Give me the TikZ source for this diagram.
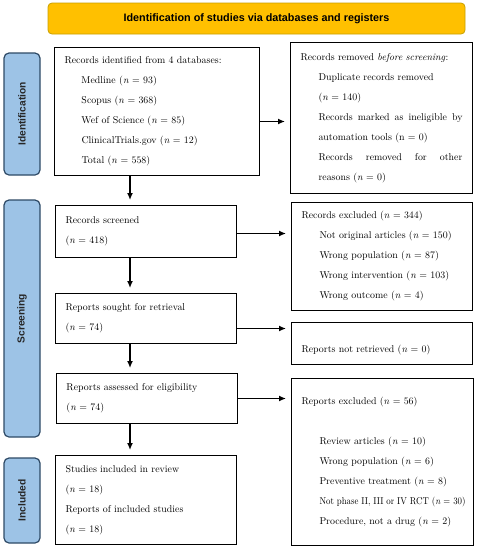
\documentclass[tikz,border=0pt]{standalone}
\usepackage{fontspec}
\newfontfamily\headfont{Liberation Sans}
\usetikzlibrary{positioning,arrows.meta}

\definecolor{bannerfill}{HTML}{FFC000}
\definecolor{banneredge}{HTML}{C8A000}
\definecolor{phasefill}{HTML}{9DC3E6}
\definecolor{phaseedge}{HTML}{2E4A66}

\tikzset{
  box/.style={draw, line width=1pt, anchor=north west, align=left,
    inner xsep=10pt, inner ysep=0pt, font=\fontsize{9.9}{20}\selectfont},
  phase/.style={draw=phaseedge, fill=phasefill, line width=1.2pt,
    rounded corners=5pt, rotate=90, minimum height=36pt,
    font=\headfont\bfseries\fontsize{10.2}{12}\selectfont, text=black!85},
  flow/.style={-{Latex[length=7pt,width=6pt]}, line width=1.3pt, shorten >=5pt}
}

\begin{document}
\begin{tikzpicture}[x=1pt,y=1pt]
  \useasboundingbox (0,0) rectangle (477,-550);

  % header and phases
  \node[draw=banneredge, fill=bannerfill, line width=0.8pt, rounded corners=4pt,
        minimum width=417pt, minimum height=31pt,
        font=\headfont\bfseries\fontsize{10.8}{12}\selectfont] (banner) at (256.5,-18.5)
        {Identification of studies via databases and registers};
  \node[phase, minimum width=122pt] (ident) at (22,-114)   {Identification};
  \node[phase, minimum width=237pt] (screen) at (22,-318.5) {Screening};
  \node[phase, minimum width=85pt]  (incl) at (22,-500.5)  {Included};

  % left column
  \node[box, text width=185pt, minimum height=128pt] (found) at (54,-47)
    {Records identified from 4 databases:\\
     \hspace*{17pt}Medline (\textit{n} = 93)\\
     \hspace*{17pt}Scopus (\textit{n} = 368)\\
     \hspace*{17pt}Wef of Science (\textit{n} = 85)\\
     \hspace*{17pt}ClinicalTrials.gov (\textit{n} = 12)\\
     \hspace*{17pt}Total (\textit{n} = 558)};
  \node[box, text width=161pt, minimum height=52pt] (screened) at (55,-205)
    {Records screened\\(\textit{n} = 418)};
  \node[box, text width=161pt, minimum height=50pt] (sought) at (55,-293)
    {Reports sought for retrieval\\(\textit{n} = 74)};
  \node[box, text width=161pt, minimum height=50pt] (assessed) at (56,-373)
    {Reports assessed for eligibility\\(\textit{n} = 74)};
  \node[box, text width=161pt, minimum height=89pt] (included) at (55,-455)
    {Studies included in review\\(\textit{n} = 18)\\
     Reports of included studies\\(\textit{n} = 18)};

  % right column
  \node[box, text width=162pt, minimum height=151pt] (removed) at (290,-42)
    {Records removed \textit{before screening}:\\
     \hspace*{18pt}Duplicate records removed\\
     \hspace*{18pt}(\textit{n} = 140)\\
     \hspace*{18pt}\hbox to 144pt{Records\hfill marked\hfill as\hfill ineligible\hfill by}\\
     \hspace*{18pt}automation tools (n = 0)\\
     \hspace*{18pt}\hbox to 144pt{Records\hfill removed\hfill for\hfill other}\\
     \hspace*{18pt}reasons (\textit{n} = 0)};
  \node[box, text width=161pt, minimum height=108pt] (excluded) at (291,-202)
    {Records excluded (\textit{n} = 344)\\
     \hspace*{18pt}Not original articles (\textit{n} = 150)\\
     \hspace*{18pt}Wrong population (\textit{n} = 87)\\
     \hspace*{18pt}Wrong intervention (\textit{n} = 103)\\
     \hspace*{18pt}Wrong outcome (\textit{n} = 4)};
  \node[box, text width=161pt, minimum height=42pt] (notret) at (291,-322)
    {\mbox{}\\Reports not retrieved (\textit{n} = 0)};
  \node[box, text width=162pt, minimum height=167pt] (repexcl) at (291,-378)
    {Reports excluded (\textit{n} = 56)\\ \mbox{}\\
     \hspace*{18pt}Review articles (\textit{n} = 10)\\
     \hspace*{18pt}Wrong population (\textit{n} = 6)\\
     \hspace*{18pt}Preventive treatment (\textit{n} = 8)\\
     \hspace*{18pt}\resizebox{146pt}{\height}{Not phase II, III or IV RCT (\textit{n} = 30)}\\
     \hspace*{18pt}Procedure, not a drug (\textit{n} = 2)};

  % connectors
  \coordinate (spine) at (130,0);
  \draw[flow] (found.south -| spine) -- (screened.north -| spine);
  \draw[flow] (screened.south -| spine) -- (sought.north -| spine);
  \draw[flow] (sought.south -| spine) -- (assessed.north -| spine);
  \draw[flow] (assessed.south -| spine) -- (included.north -| spine);
  \draw[flow] ([yshift=-10pt]found.east) -- ([yshift=-10pt]found.east -| removed.west);
  \draw[flow] ([yshift=-2pt]screened.east) -- ([yshift=-2pt]screened.east -| excluded.west);
  \draw[flow] ([yshift=-10pt]sought.east) -- ([yshift=-10pt]sought.east -| notret.west);
  \draw[flow] (assessed.east) -- (assessed.east -| repexcl.west);
\end{tikzpicture}
\end{document}
